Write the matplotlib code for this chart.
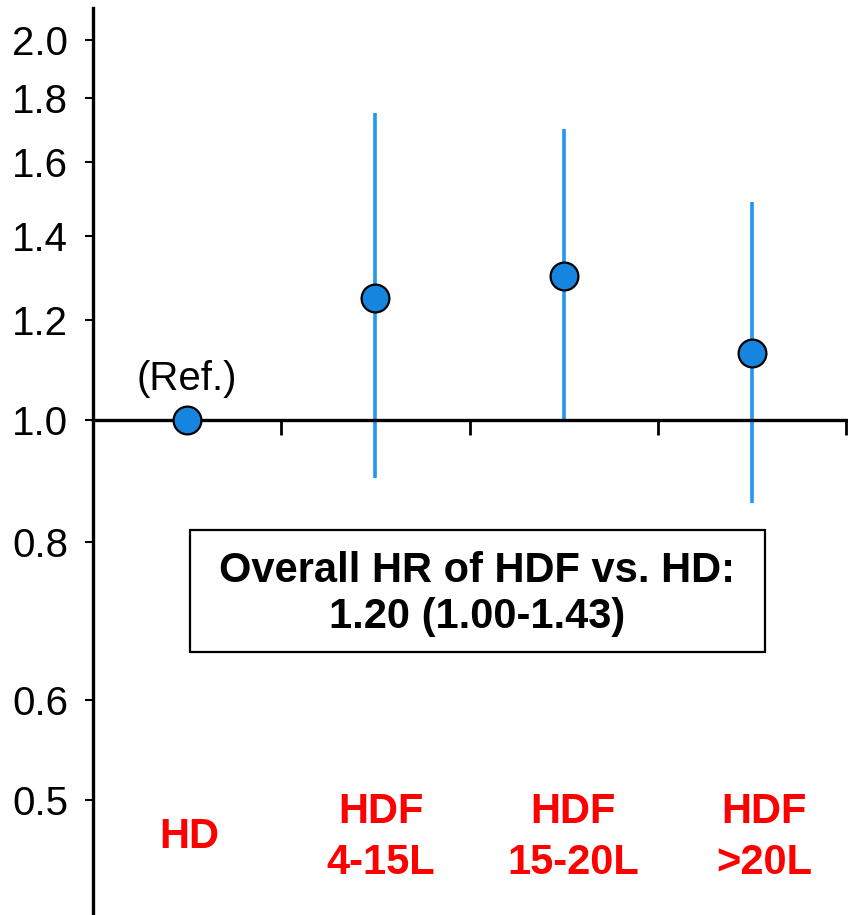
import matplotlib
matplotlib.use('Agg')
import matplotlib.pyplot as plt
from matplotlib.patches import Rectangle
from matplotlib.ticker import FixedLocator, FormatStrFormatter, NullLocator
import numpy as np

plt.rcParams['font.family'] = ['Liberation Sans', 'DejaVu Sans']

# hazard ratios by treatment group, HD is the reference
groups = ['HD', 'HDF\n4-15L', 'HDF\n15-20L', 'HDF\n>20L']
hr = [1.00, 1.25, 1.30, 1.13]
ci_low = [1.00, 0.90, 1.00, 0.86]
ci_high = [1.00, 1.75, 1.70, 1.49]
yticks = [0.5, 0.6, 0.8, 1.0, 1.2, 1.4, 1.6, 1.8, 2.0]
overall = ['Overall HR of HDF vs. HD:', '1.20 (1.00-1.43)']

fig = plt.figure(figsize=(8.48, 9.15), dpi=100)
ax = fig.add_axes([93/848, 0.0, 753/848, 1 - 8/915])

x = np.arange(len(groups))

# confidence intervals (skip the reference group)
for xi, lo, hi in zip(x, ci_low, ci_high):
    if hi > lo:
        ax.vlines(xi, lo, hi, color='#2196f3', linewidth=2.6, zorder=2)

ax.plot(x, hr, 'o', markersize=20, markerfacecolor='#1585e0',
        markeredgecolor='black', markeredgewidth=1.6, linestyle='none', zorder=3)

ax.annotate('(Ref.)', xy=(x[0], hr[0]), xytext=(0, 21.5), textcoords='offset points',
            ha='center', va='baseline', fontsize=29)

ax.set_yscale('log')
ax.set_ylim(0.4053, 2.121)
ax.set_xlim(-0.5, 3.5)

ax.yaxis.set_major_locator(FixedLocator(yticks))
ax.yaxis.set_major_formatter(FormatStrFormatter('%.1f'))
ax.yaxis.set_minor_locator(NullLocator())
ax.set_xticks(list(x + 0.5))
ax.set_xticklabels([])

ax.tick_params(axis='y', direction='out', length=6, width=1.5, pad=12, labelsize=29)
ax.tick_params(axis='x', direction='out', length=11, width=2)

for s in ['top', 'right']:
    ax.spines[s].set_visible(False)
ax.spines['bottom'].set_position(('data', 1.0))
ax.spines['bottom'].set_linewidth(2.4)
ax.spines['left'].set_linewidth(2.4)

# group names below the plot, in red
shift = [0.01, 0.03, 0.05, 0.065]
for xi, dx, name in zip(x, shift, groups):
    lines = name.split('\n')
    ys = [0.458] if len(lines) == 1 else [0.4794, 0.4368]
    for line, y in zip(lines, ys):
        ax.text(xi + dx, y, line, ha='center', va='baseline', fontsize=30,
                fontweight='bold', color='red')

# overall hazard ratio box
ax.add_patch(Rectangle((0.015, 0.655), 3.07 - 0.015, 0.818 - 0.655,
                       facecolor='white', edgecolor='black', linewidth=1.6, zorder=4))
for line, y in zip(overall, [0.7438, 0.6842]):
    ax.text(1.54, y, line, ha='center', va='baseline', fontsize=30,
            fontweight='bold', zorder=5)

plt.savefig('out.png', dpi=100)
